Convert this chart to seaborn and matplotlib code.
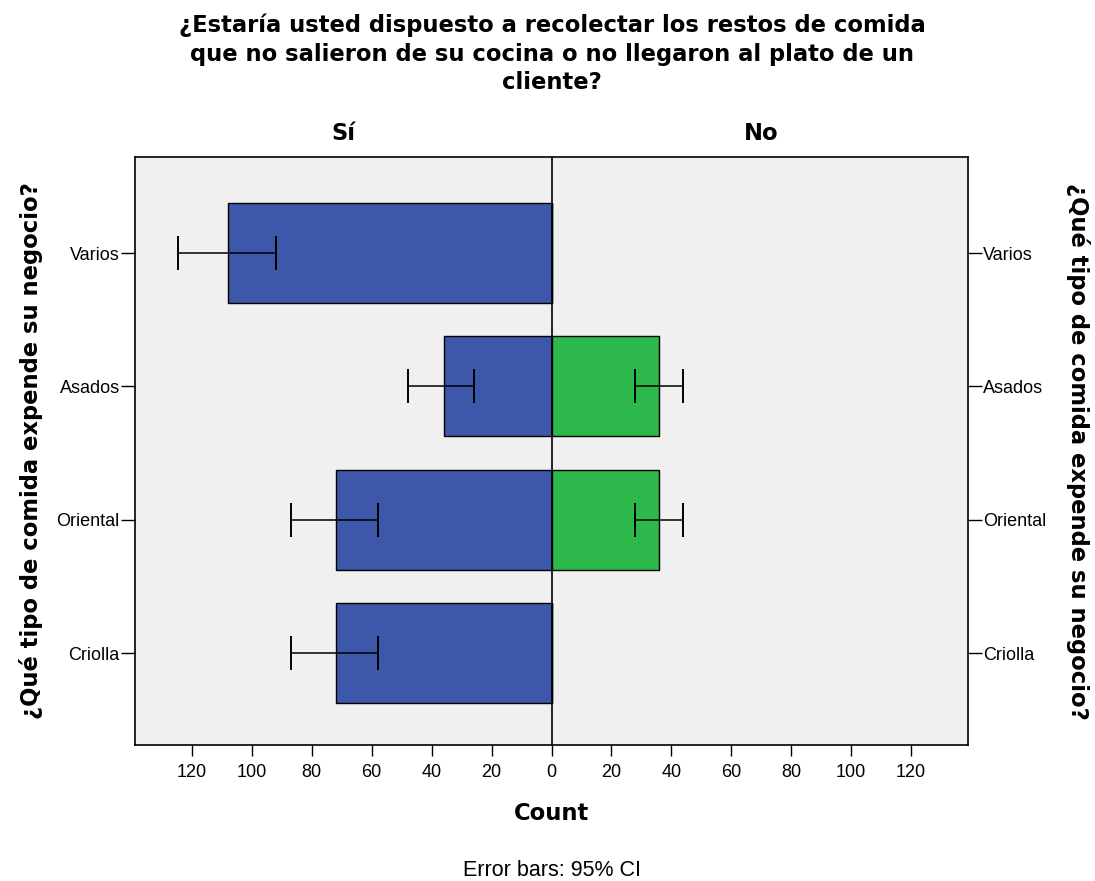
import pandas as pd
import matplotlib.pyplot as plt
import seaborn as sns

# Data
tipos = ["Varios", "Asados", "Oriental", "Criolla"]
si_count = [108, 36, 72, 72]
no_count = [0, 36, 36, 0]
si_ci_low = [92, 26, 58, 58]
si_ci_high = [124.5, 48, 87, 87]
no_ci_low = [None, 28, 28, None]
no_ci_high = [None, 44, 44, None]
xticks = [-120, -100, -80, -60, -40, -20, 0, 20, 40, 60, 80, 100, 120]

blue = "#3D58AB"
green = "#2DB84B"

sns.set_style("white")
plt.rcParams['font.family'] = ['Liberation Sans', 'DejaVu Sans']
plt.rcParams.update({"text.color": "black", "axes.labelcolor": "black",
                     "xtick.color": "black", "ytick.color": "black"})

bold = dict(family="DejaVu Sans", fontweight="bold", fontsize=16.3)

df = pd.DataFrame({"tipo": tipos, "si": [-v for v in si_count], "no": no_count})

fig = plt.figure(figsize=(10.95, 8.81), dpi=100)
ax = fig.add_axes([135/1095, 1-745/881, (968-135)/1095, (745-157)/881])
ax.set_facecolor("#F0F0F0")

sns.barplot(data=df, y="tipo", x="si", orient="h", color=blue, width=0.75,
            edgecolor="black", linewidth=1, saturation=1, ax=ax)
sns.barplot(data=df, y="tipo", x="no", orient="h", color=green, width=0.75,
            edgecolor="black", linewidth=1, saturation=1, ax=ax)

# error bars (95% CI)
for i, t in enumerate(tipos):
    ax.errorbar([-(si_ci_low[i] + si_ci_high[i]) / 2], [i],
                xerr=[[(si_ci_high[i] - si_ci_low[i]) / 2]],
                fmt="none", ecolor="black", elinewidth=1.1, capsize=12, capthick=1.4)
    if no_ci_low[i] is not None:
        ax.errorbar([(no_ci_low[i] + no_ci_high[i]) / 2], [i],
                    xerr=[[(no_ci_high[i] - no_ci_low[i]) / 2]],
                    fmt="none", ecolor="black", elinewidth=1.1, capsize=12, capthick=1.4)

ax.axvline(0, color="black", lw=1.2)
ax.set_xlim(-139, 139)
ax.set_ylim(3.69, -0.72)

ax.set_xticks(xticks)
ax.set_xticklabels([str(abs(v)) for v in xticks], fontsize=13)
ax.tick_params(axis="x", direction="out", length=8, width=1, bottom=True, pad=6)
ax.tick_params(axis="y", direction="out", length=10, width=1, left=True, right=True,
               labelleft=True, labelright=True, labelsize=13, pad=1)

for s in ax.spines.values():
    s.set_color("black")
    s.set_linewidth(1.2)

ax.set_xlabel("Count", labelpad=15, **bold)
ax.set_ylabel("¿Qué tipo de comida expende su negocio?", **bold)
ax.yaxis.set_label_coords(-0.111, 0.5)
fig.text(1078/1095, 1-451/881, "¿Qué tipo de comida expende su negocio?",
         rotation=-90, ha="center", va="center", **bold)

fig.text(552/1095, 1-54/881,
         "¿Estaría usted dispuesto a recolectar los restos de comida\n"
         "que no salieron de su cocina o no llegaron al plato de un\ncliente?",
         ha="center", va="center", linespacing=1.3, **bold)
fig.text(343/1095, 1-133/881, "Sí", ha="center", va="center", **bold)
fig.text(761/1095, 1-133/881, "No", ha="center", va="center", **bold)
fig.text(552/1095, 1-870/881, "Error bars: 95% CI", ha="center", va="center", fontsize=15.5)

plt.savefig("out.png", dpi=100)
plt.close()
